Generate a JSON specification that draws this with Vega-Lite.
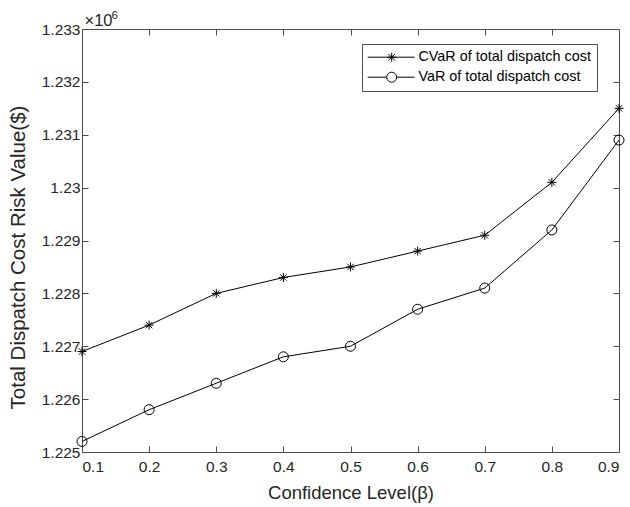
{
  "$schema": "https://vega.github.io/schema/vega-lite/v6.json",
  "width": 537,
  "height": 423,
  "autosize": "none",
  "padding": {"left": 82, "top": 29, "right": 11, "bottom": 55},
  "background": "white",
  "config": {
    "view": {"stroke": null},
    "axis": {"grid": false, "domainColor": "#4d4d4d", "domainWidth": 1, "tickColor": "#4d4d4d", "tickWidth": 1, "tickSize": -6, "labelFont": "Liberation Sans", "labelFontSize": 15.5, "labelColor": "#262626", "titleFont": "Liberation Sans", "titleFontWeight": "normal", "titleColor": "#262626"},
    "axisTop": {"titleFontSize": 16.5},
    "legend": {"orient": "none", "legendX": 280, "legendY": 15}
  },
  "data": {"values": [
    {"beta": 0.1, "series": "CVaR of total dispatch cost", "value": 1226900},
    {"beta": 0.2, "series": "CVaR of total dispatch cost", "value": 1227400},
    {"beta": 0.3, "series": "CVaR of total dispatch cost", "value": 1228000},
    {"beta": 0.4, "series": "CVaR of total dispatch cost", "value": 1228300},
    {"beta": 0.5, "series": "CVaR of total dispatch cost", "value": 1228500},
    {"beta": 0.6, "series": "CVaR of total dispatch cost", "value": 1228800},
    {"beta": 0.7, "series": "CVaR of total dispatch cost", "value": 1229100},
    {"beta": 0.8, "series": "CVaR of total dispatch cost", "value": 1230100},
    {"beta": 0.9, "series": "CVaR of total dispatch cost", "value": 1231500},
    {"beta": 0.1, "series": "VaR of total dispatch cost", "value": 1225200},
    {"beta": 0.2, "series": "VaR of total dispatch cost", "value": 1225800},
    {"beta": 0.3, "series": "VaR of total dispatch cost", "value": 1226300},
    {"beta": 0.4, "series": "VaR of total dispatch cost", "value": 1226800},
    {"beta": 0.5, "series": "VaR of total dispatch cost", "value": 1227000},
    {"beta": 0.6, "series": "VaR of total dispatch cost", "value": 1227700},
    {"beta": 0.7, "series": "VaR of total dispatch cost", "value": 1228100},
    {"beta": 0.8, "series": "VaR of total dispatch cost", "value": 1229200},
    {"beta": 0.9, "series": "VaR of total dispatch cost", "value": 1230900}
  ]},
  "layer": [
    {
      "mark": {"type": "line", "color": "black", "strokeWidth": 1},
      "encoding": {
        "x": {"field": "beta", "type": "quantitative", "scale": {"domain": [0.1, 0.9], "nice": false, "zero": false},
              "axis": {"orient": "bottom", "values": [0.1,0.2,0.3,0.4,0.5,0.6,0.7,0.8,0.9], "format": ".1f", "labelPadding": 13, "title": "Confidence Level(β)", "titleFontSize": 18.5, "titlePadding": 9}},
        "y": {"field": "value", "type": "quantitative", "scale": {"domain": [1225000, 1233000], "nice": false, "zero": false},
              "axis": {"orient": "left", "values": [1225000,1226000,1227000,1228000,1229000,1230000,1231000,1232000,1233000], "labelExpr": "format(datum.value / 1000000, '.3~f')", "labelPadding": 8, "title": "Total Dispatch Cost Risk Value($)", "titleFontSize": 20.5, "titlePadding": 13, "titleY": 228}},
        "detail": {"field": "series"}
      }
    },
    {
      "mark": {"type": "point", "filled": false, "stroke": "black", "strokeWidth": 1, "size": 100, "opacity": 1},
      "encoding": {
        "x": {"field": "beta", "type": "quantitative", "scale": {"domain": [0.1, 0.9], "nice": false, "zero": false},
              "axis": {"orient": "top", "values": [0.1,0.2,0.3,0.4,0.5,0.6,0.7,0.8,0.9], "labels": false, "title": "×10", "titleFontSize": 16.5, "titleAnchor": "start", "titleAlign": "left", "titleBaseline": "alphabetic", "titleAngle": 0, "titleX": 2, "titleY": -4}},
        "y": {"field": "value", "type": "quantitative", "scale": {"domain": [1225000, 1233000], "nice": false, "zero": false},
              "axis": {"orient": "right", "values": [1225000,1226000,1227000,1228000,1229000,1230000,1231000,1232000,1233000], "labels": false, "title": "6", "titleFontSize": 11.5, "titleAngle": 0, "titleAlign": "left", "titleBaseline": "alphabetic", "titleX": -508, "titleY": -11}},
        "shape": {"field": "series", "type": "nominal",
          "scale": {"domain": ["CVaR of total dispatch cost", "VaR of total dispatch cost"], "range": ["M-0.9,0L0.9,0M0,-0.9L0,0.9M-0.64,-0.64L0.64,0.64M-0.64,0.64L0.64,-0.64", "circle"]},
          "legend": null
        }
      }
    },
    {
      "mark": {"type": "point", "filled": false, "stroke": "black", "strokeWidth": 1, "size": 100, "opacity": 0},
      "encoding": {
        "x": {"field": "beta", "type": "quantitative", "axis": null},
        "y": {"field": "value", "type": "quantitative", "axis": null},
        "shape": {"field": "series", "type": "nominal",
          "scale": {"domain": ["CVaR of total dispatch cost", "VaR of total dispatch cost"], "range": ["M-1.5,0L7.9,0M2.4,0L4.2,0M3.3,-0.9L3.3,0.9M2.66,-0.64L3.94,0.64M2.66,0.64L3.94,-0.64", "M-1.5,0L2.3,0M4.3,0L7.9,0M2.3,0A1,1 0 1,0 4.3,0A1,1 0 1,0 2.3,0"]},
          "legend": {"title": null, "strokeColor": "#4d4d4d", "fillColor": "white", "padding": 6, "labelFont": "Liberation Sans", "labelFontSize": 14.4, "labelColor": "black", "labelLimit": 0, "labelOffset": 36, "symbolSize": 100, "symbolOpacity": 1, "symbolStrokeColor": "black", "symbolStrokeWidth": 1, "symbolFillColor": "transparent", "rowPadding": 5}
        }
      }
    }
  ],
  "resolve": {"axis": {"x": "independent", "y": "independent"}, "scale": {"shape": "independent"}}
}
